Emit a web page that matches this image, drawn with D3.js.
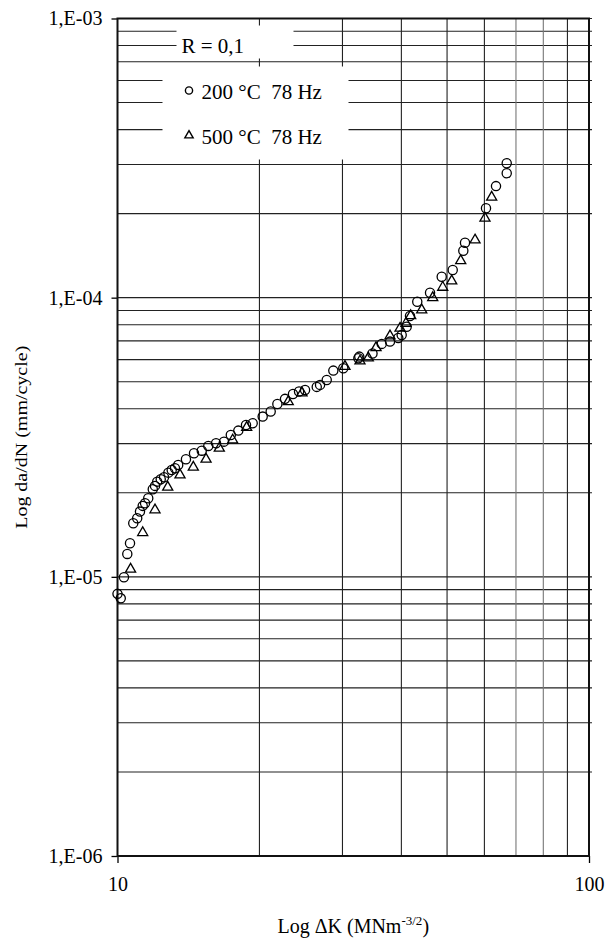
<!DOCTYPE html>
<html>
<head>
<meta charset="utf-8">
<script src="https://cdn.jsdelivr.net/npm/d3@7"></script>
<style>
  body { margin: 0; background: #fff; }
  text { font-family: "Liberation Serif", "Times New Roman", serif; fill: #000; }
</style>
</head>
<body>
<div id="chart"></div>
<script>
// data: delta K (MNm^-3/2) and da/dN (mm/cycle)
var k200 = [10.0, 10.16, 10.32, 10.49, 10.63, 10.80, 11.01, 11.16, 11.31, 11.44, 11.62, 11.88, 12.01, 12.14, 12.35,
    12.55, 12.82, 13.03, 13.24, 13.45, 13.97, 14.53, 15.09, 15.58, 16.18, 16.82, 17.39, 18.04, 18.73, 19.35,
    20.32, 21.13, 21.83, 22.66, 23.56, 24.27, 24.99, 26.46, 26.89, 27.78, 28.69, 30.12, 32.42, 32.57, 34.74,
    36.34, 37.84, 39.40, 40.06, 41.05, 41.72, 43.23, 46.01, 48.71, 51.40, 54.13, 54.58, 60.47, 63.50, 66.91, 66.91];
var rate200 = [8.69e-6, 8.38e-6, 9.97e-6, 1.208e-5, 1.319e-5, 1.556e-5, 1.622e-5, 1.713e-5, 1.795e-5, 1.835e-5, 1.912e-5,
    2.06e-5, 2.117e-5, 2.193e-5, 2.237e-5, 2.274e-5, 2.362e-5, 2.415e-5, 2.449e-5, 2.517e-5, 2.638e-5, 2.772e-5,
    2.831e-5, 2.944e-5, 3.01e-5, 3.05e-5, 3.22e-5, 3.34e-5, 3.50e-5, 3.55e-5, 3.75e-5, 3.91e-5, 4.16e-5, 4.34e-5,
    4.52e-5, 4.61e-5, 4.67e-5, 4.79e-5, 4.87e-5, 5.07e-5, 5.48e-5, 5.59e-5, 6.07e-5, 6.15e-5, 6.31e-5, 6.83e-5,
    6.96e-5, 7.17e-5, 7.35e-5, 7.87e-5, 8.60e-5, 9.67e-5, 1.042e-4, 1.189e-4, 1.257e-4, 1.473e-4, 1.574e-4,
    2.09e-4, 2.51e-4, 2.79e-4, 3.03e-4];

var k500 = [10.66, 11.31, 12.01, 12.78, 13.57, 14.48, 15.41, 16.44, 17.55, 18.79, 23.02, 24.62, 30.37, 32.68,
    34.03, 35.34, 37.84, 39.74, 40.91, 41.86, 44.18, 46.62, 48.95, 51.15, 53.45, 57.32, 60.17, 62.17];
var rate500 = [1.065e-5, 1.44e-5, 1.737e-5, 2.094e-5, 2.317e-5, 2.47e-5, 2.638e-5, 2.888e-5, 3.09e-5, 3.43e-5,
    4.24e-5, 4.56e-5, 5.67e-5, 5.93e-5, 6.08e-5, 6.62e-5, 7.29e-5, 7.77e-5, 8.09e-5, 8.62e-5, 9.04e-5, 1.0e-4,
    1.089e-4, 1.148e-4, 1.357e-4, 1.609e-4, 1.925e-4, 2.29e-4];

var xTicks = [10, 100];
var xTickLabels = ["10", "100"];
var yTicks = [1e-6, 1e-5, 1e-4, 1e-3];
var yTickLabels = ["1,E-06", "1,E-05", "1,E-04", "1,E-03"];
var legendLabels = ["200 °C  78 Hz", "500 °C  78 Hz"];
var noteLabel = "R = 0,1";

var svgWidth = 608;
var svgHeight = 943;
var margin = { top: 18.5, right: 19, bottom: 87, left: 117.5 };
var width = svgWidth - margin.left - margin.right;
var height = svgHeight - margin.top - margin.bottom;

var svg = d3.select("#chart")
    .append("svg")
    .attr("width", svgWidth)
    .attr("height", svgHeight);

var chartGroup = svg.append("g")
    .attr("transform", `translate(${margin.left}, ${margin.top})`);

var xLogScale = d3.scaleLog().domain([10, 100]).range([0, width]);
var yLogScale = d3.scaleLog().domain([1e-6, 1e-3]).range([height, 0]);

// minor grid lines (2..9 of every decade)
var xMinor = [];
for (var i = 2; i <= 9; i++) xMinor.push(i * 10);
var yMinor = [];
[1e-6, 1e-5, 1e-4].forEach(function(dec) {
    for (var j = 2; j <= 10; j++) yMinor.push(dec * j);
});

chartGroup.append("g").selectAll("line")
    .data(yMinor)
    .enter()
    .append("line")
    .attr("x1", 0)
    .attr("x2", width + 3)
    .attr("y1", d => yLogScale(d))
    .attr("y2", d => yLogScale(d))
    .attr("stroke", "#222")
    .attr("stroke-width", 1.1);

chartGroup.append("g").selectAll("line")
    .data(xMinor)
    .enter()
    .append("line")
    .attr("x1", d => xLogScale(d))
    .attr("x2", d => xLogScale(d))
    .attr("y1", 0)
    .attr("y2", height)
    .attr("stroke", d => (d == 70 || d == 80) ? "#777" : "#222")
    .attr("stroke-width", 1.1);

// white boxes of the note and the legend hide the grid
chartGroup.append("rect")
    .attr("x", 59).attr("y", 7)
    .attr("width", 117).attr("height", 33)
    .attr("fill", "#fff");
chartGroup.append("rect")
    .attr("x", 45).attr("y", 48)
    .attr("width", 186).attr("height", 93)
    .attr("fill", "#fff");

// axes
var bottomAxis = d3.axisBottom(xLogScale)
    .tickValues(xTicks)
    .tickSize(7)
    .tickPadding(14)
    .tickFormat((d, i) => xTickLabels[i]);
var leftAxis = d3.axisLeft(yLogScale)
    .tickValues(yTicks)
    .tickSize(6)
    .tickPadding(9)
    .tickFormat((d, i) => yTickLabels[i]);

var xAxisG = chartGroup.append("g")
    .attr("transform", `translate(0, ${height})`)
    .call(bottomAxis);
var yAxisG = chartGroup.append("g")
    .call(leftAxis);

[xAxisG, yAxisG].forEach(function(g) {
    g.select(".domain").remove();
    g.selectAll("line").attr("stroke", "#000").attr("stroke-width", 1.3);
    g.selectAll("text")
        .style("font-family", "Liberation Serif")
        .style("font-size", "20px");
});

// frame
chartGroup.append("rect")
    .attr("width", width)
    .attr("height", height)
    .attr("fill", "none")
    .attr("stroke", "#111")
    .attr("stroke-width", 2);

// data points
chartGroup.append("g").selectAll("circle")
    .data(k200.map((k, i) => [k, rate200[i]]))
    .enter()
    .append("circle")
    .attr("cx", d => xLogScale(d[0]))
    .attr("cy", d => yLogScale(d[1]))
    .attr("r", 4.6)
    .attr("fill", "none")
    .attr("stroke", "#000")
    .attr("stroke-width", 1.3);

var triangle = d3.symbol().type(d3.symbolTriangle).size(44);
chartGroup.append("g").selectAll("path")
    .data(k500.map((k, i) => [k, rate500[i]]))
    .enter()
    .append("path")
    .attr("d", triangle)
    .attr("transform", d => `translate(${xLogScale(d[0])}, ${yLogScale(d[1])})`)
    .attr("fill", "none")
    .attr("stroke", "#000")
    .attr("stroke-width", 1.3);

// note and legend
chartGroup.append("text")
    .attr("x", 64)
    .attr("y", 34)
    .style("font-size", "21px")
    .text(noteLabel);

var legend = chartGroup.append("g");
legendLabels.forEach(function(label, i) {
    var yy = 74 + i * 45;
    if (i == 0) {
        legend.append("circle")
            .attr("cx", 71.5).attr("cy", yy - 2).attr("r", 3.6)
            .attr("fill", "none").attr("stroke", "#000").attr("stroke-width", 1.4);
    } else {
        legend.append("path")
            .attr("d", d3.symbol().type(d3.symbolTriangle).size(30))
            .attr("transform", `translate(71.5, ${yy - 2})`)
            .attr("fill", "none").attr("stroke", "#000").attr("stroke-width", 1.4);
    }
    legend.append("text")
        .attr("x", 84)
        .attr("y", yy + 6)
        .style("font-size", "21px")
        .style("white-space", "pre")
        .text(label);
});

// axis titles
var xTitle = svg.append("text")
    .attr("x", margin.left + width / 2)
    .attr("y", 933)
    .attr("text-anchor", "middle")
    .style("font-size", "20px");
xTitle.append("tspan").text("Log \u0394K (MNm");
xTitle.append("tspan").attr("dy", -8).style("font-size", "13px").text("-3/2");
xTitle.append("tspan").attr("dy", 8).text(")");

svg.append("text")
    .attr("transform", `translate(27, ${margin.top + height / 2}) rotate(-90) scale(1, 0.85)`)
    .attr("text-anchor", "middle")
    .style("font-size", "20px")
    .text("Log da/dN (mm/cycle)");
</script>
</body>
</html>
